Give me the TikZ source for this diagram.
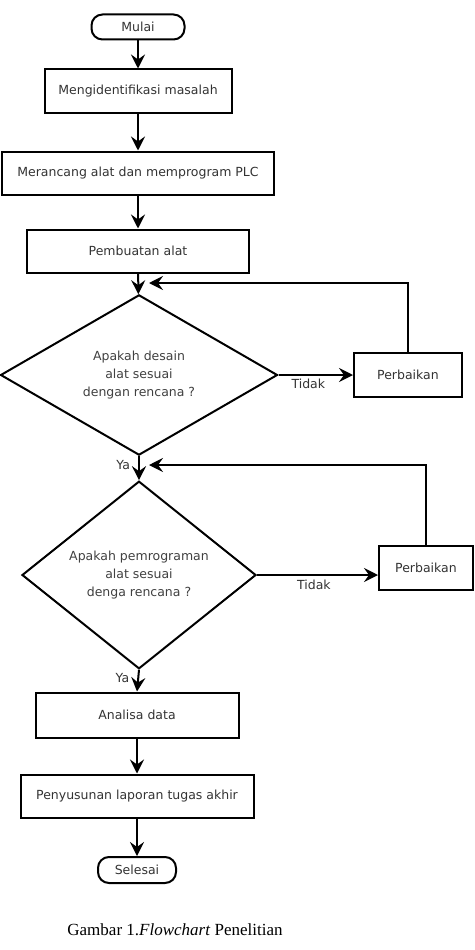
\documentclass[tikz,border=0pt]{standalone}
\usepackage{fontspec}
\setmainfont{Liberation Serif}
\newfontfamily\dejavu{DejaVu Sans}
\usetikzlibrary{shapes.geometric,arrows.meta}
\begin{document}
\begin{tikzpicture}[x=1pt,y=-1pt,
    proses/.style={draw,line width=2pt,minimum height=43pt,inner sep=0pt,font=\dejavu\fontsize{12.5}{18}\selectfont,text=black!80},
    terminal/.style={proses,rounded corners=11pt,minimum height=25pt},
    keputusan/.style={draw,diamond,line width=2pt,inner sep=0pt,align=center,font=\dejavu\fontsize{12.5}{18}\selectfont,text=black!75},
    label/.style={font=\dejavu\fontsize{12.5}{15}\selectfont,text=black!80,inner sep=2pt},
    panah/.style={line width=2pt,-{Stealth[length=14pt,width=14pt,inset=5pt]}}]
    \useasboundingbox (0,0) rectangle (474,950);
    \node[terminal,minimum width=93pt] (mulai) at (138,27) {Mulai};
    \node[proses,minimum width=187pt] (identifikasi) at (138,91) {Mengidentifikasi masalah};
    \node[proses,minimum width=272pt] (rancang) at (138,173) {Merancang alat dan memprogram PLC};
    \node[proses,minimum width=222pt] (buat) at (138,251) {Pembuatan alat};
    \node[keputusan,minimum width=277pt,minimum height=138pt] (desain) at (139,375) {Apakah desain\\alat sesuai\\dengan rencana ?};
    \node[proses,minimum width=108pt,minimum height=44pt] (perbaikan1) at (408,375) {Perbaikan};
    \node[keputusan,minimum width=234pt,minimum height=164pt] (program) at (139,575) {Apakah pemrograman\\alat sesuai\\denga rencana ?};
    \node[proses,minimum width=94pt,minimum height=44pt] (perbaikan2) at (426,568) {Perbaikan};
    \node[proses,minimum width=203pt,minimum height=45pt] (analisa) at (137,715) {Analisa data};
    \node[proses,minimum width=233pt] (laporan) at (137,796) {Penyusunan laporan tugas akhir};
    \node[terminal,minimum width=78pt,minimum height=26pt] (selesai) at (137,870) {Selesai};
    \coordinate (balik1) at (149,283);
    \coordinate (balik2) at (149,465);
    \draw[panah] (mulai) -- (identifikasi);
    \draw[panah] (identifikasi) -- (rancang);
    \draw[panah] (rancang) -- (buat);
    \draw[panah] (buat) -- (desain);
    \draw[panah] (desain.east) -- node[label,pos=0.4,below,yshift=-1pt] {Tidak} (perbaikan1.west);
    \draw[panah] (perbaikan1.north) |- (balik1);
    \draw[panah] (desain.south) -- node[label,pos=0.37,left,xshift=-6pt] {Ya} (program.north);
    \draw[panah] (program.east) -- node[label,pos=0.47,below,yshift=-2pt] {Tidak} (program.east -| perbaikan2.west);
    \draw[panah] (perbaikan2.north) |- (balik2);
    \draw[panah] (program.south) -- node[label,pos=0.37,left,xshift=-6pt] {Ya} (analisa.north);
    \draw[panah] (analisa) -- (laporan);
    \draw[panah] (laporan) -- (selesai);
    \node[font=\fontsize{17}{20}\selectfont] (judul) at (175,930) {Gambar 1.\textit{Flowchart} Penelitian};
\end{tikzpicture}
\end{document}
